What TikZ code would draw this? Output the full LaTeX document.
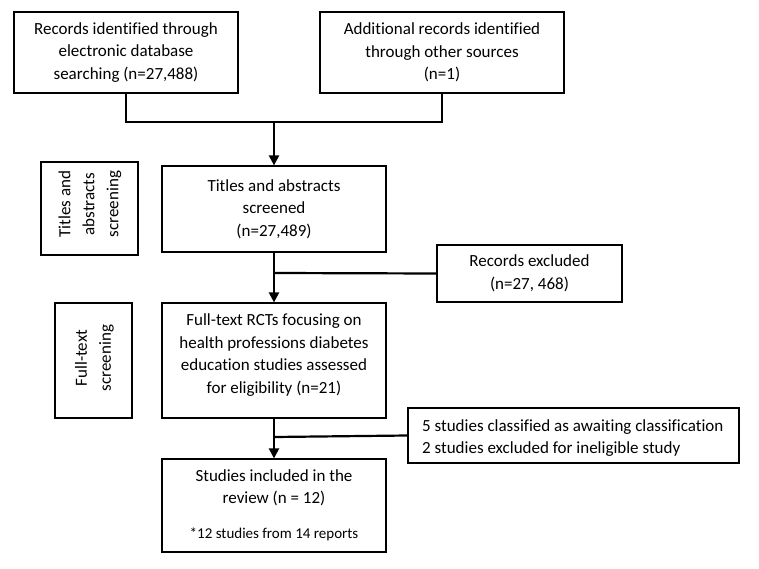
\documentclass[tikz,border=0pt]{standalone}
\usepackage{fontspec}
\setmainfont[Ligatures={NoCommon}]{Carlito}
\usetikzlibrary{arrows.meta}
\begin{document}
\begin{tikzpicture}[x=1pt,y=-1pt,
  box/.style={draw,line width=1.2pt,rectangle,inner sep=0pt,align=center,font=\fontsize{17}{22.5}\selectfont},
  txt/.style={inner sep=0pt,align=center,font=\fontsize{17}{22.5}\selectfont},
  conn/.style={line width=2.2pt},
  arr/.style={conn,-{Triangle[width=10pt,length=10pt]}}]
\useasboundingbox[fill=white] (0,0) rectangle (759,569);
\node[box,minimum width=224pt,minimum height=81pt] (b1) at (126,52.5) {Records identified through\\electronic database\\searching (n=27,488)};
\node[box,minimum width=244pt,minimum height=81pt] (b2) at (442,52.5) {Additional records identified\\through other sources\\(n=1)};
\node[box,minimum width=224pt,minimum height=86pt] (b3) at (274,209) {Titles and abstracts\\screened\\(n=27,489)};
\node[box,minimum width=97pt,minimum height=93pt] (s1) at (89.5,208.5) {};
\node[txt,rotate=90,font=\fontsize{17}{24}\selectfont] (s1t) at (90,204) {Titles and\\abstracts\\screening};
\node[box,minimum width=185pt,minimum height=57pt] (ex) at (529.5,273.5) {Records excluded\\(n=27, 468)};
\node[box,minimum width=224pt,minimum height=115pt] (b4) at (274,360.5) {};
\node[txt] (b4t) at (274,355) {Full-text RCTs focusing on\\health professions diabetes\\education studies assessed\\for eligibility (n=21)};
\node[box,minimum width=77pt,minimum height=115pt] (s2) at (93.5,360.5) {};
\node[txt,rotate=90,font=\fontsize{17}{24}\selectfont] (s2t) at (94.5,358) {Full-text\\screening};
\node[box,minimum width=331pt,minimum height=55pt] (ex2) at (573.5,435.5) {};
\node[txt,align=left,anchor=west] (ex2t) at (422,438) {5 studies classified as awaiting classification\\2 studies excluded for ineligible study};
\node[box,minimum width=224pt,minimum height=93pt] (b5) at (274,505.5) {};
\node[txt] (b5t) at (274,488) {Studies included in the\\review (n = 12)};
\node[txt,font=\fontsize{15}{18}\selectfont] (b5n) at (274,534) {*12 studies from 14 reports};
\coordinate (j1) at (274,122);
\coordinate (j2) at (274,273);
\coordinate (j3) at (274,437);
\draw[conn] (b1.south) |- (j1) -| (b2.south);
\draw[arr] (j1) -- (b3.north);
\draw[arr] (b3.south) -- (b4.north);
\draw[conn] (j2) -- (ex.west);
\draw[arr] (b4.south) -- (b5.north);
\draw[conn] (j3) -- (ex2.west);
\end{tikzpicture}
\end{document}
